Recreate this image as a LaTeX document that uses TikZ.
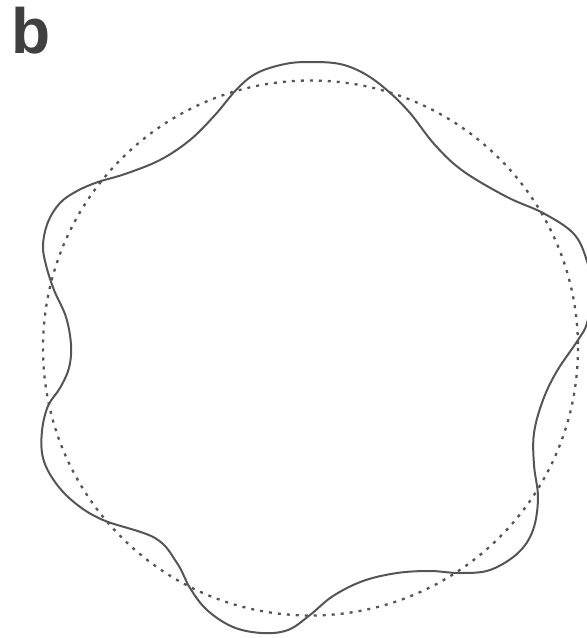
\documentclass[tikz,border=0pt]{standalone}
\usepackage{fontspec}
\setmainfont{Liberation Sans}
\usepackage{xcolor}
\usepackage{tikz}
\usetikzlibrary{positioning}

\definecolor{wavegray}{HTML}{555555}
\definecolor{labelgray}{HTML}{404040}

\begin{document}
\begin{tikzpicture}[
    x=1pt, y=-1pt,
    wave/.style={draw=wavegray, line width=2pt, line join=round},
    refcircle/.style={draw=wavegray, line width=2.3pt, dash pattern=on 3pt off 6pt},
    panellabel/.style={font=\fontsize{64}{64}\selectfont\bfseries, text=labelgray, inner sep=0pt, anchor=base west}
]
    \useasboundingbox (0,0) rectangle (587,638);

    % Panel label
    \node[panellabel] (lbl) at (11,53) {b};

    % Reference circle
    \coordinate (ctr) at (310.5,348);
    \draw[refcircle] (ctr) circle[radius=267.5];

    % Perturbed contour
    \draw[wave] plot[smooth cycle, tension=0.6] coordinates {
        (310,62) (340,64) (365,74) (388,91) (410,113) (435,145) (463,171)
        (507,197) (543,213) (573,233) (586,258) (592,290) (587,323) (578,340)
        (557,371) (543,400) (534,433) (534,465) (538,498) (533,530) (518,553)
        (490,570) (460,573) (430,571) (397,573) (363,581) (333,596) (310,615)
        (288,630) (262,633) (233,627) (207,610) (190,588) (177,563)
        (155,538) (103,520) (75,503) (55,482) (43,458) (42,431) (48,406)
        (60,388) (69,368) (71,345) (66,317) (54,290) (46,265) (43,245)
        (48,222) (60,203) (77,191) (98,182) (125,174) (160,160) (190,140)
        (215,115) (237,89) (257,73) (285,64)
    };
\end{tikzpicture}
\end{document}
